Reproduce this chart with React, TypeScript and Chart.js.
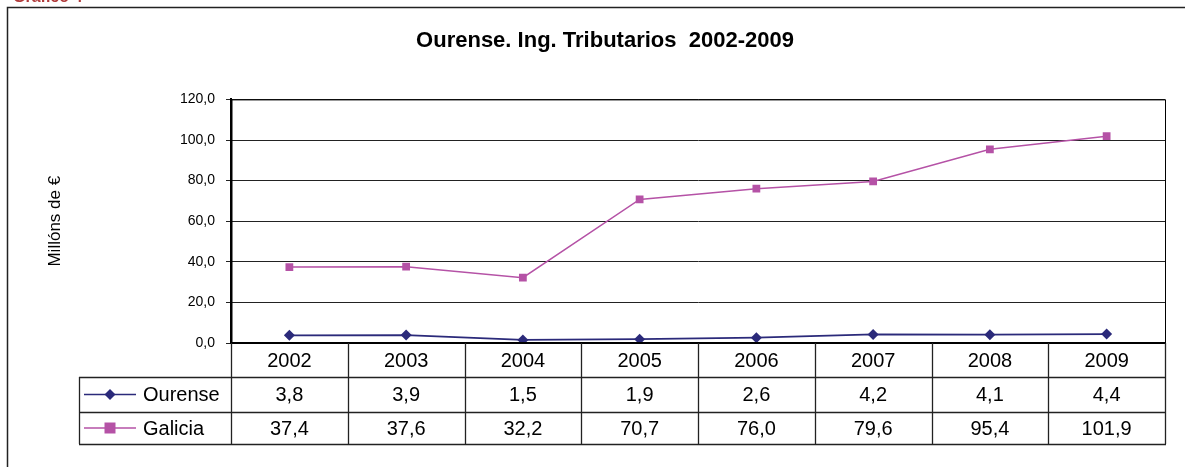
import React, { useEffect, useRef } from "react";
import { Chart, registerables } from "chart.js";

Chart.register(...registerables);

const years = ["2002", "2003", "2004", "2005", "2006", "2007", "2008", "2009"];
const ourense = [3.8, 3.9, 1.5, 1.9, 2.6, 4.2, 4.1, 4.4];
const galicia = [37.4, 37.6, 32.2, 70.7, 76.0, 79.6, 95.4, 101.9];
const seriesNames = ["Ourense", "Galicia"];
const chartTitle = "Ourense. Ing. Tributarios  2002-2009";
const yTitle = "Millóns de €";
const captionText = "Gráfico 4";

const NAVY = "#2B2A7A";
const MAGENTA = "#B552A6";
const FONT = "'Liberation Sans', Arial, sans-serif";

const fmt = (v: number) => v.toFixed(1).replace(".", ",");

const tablePlugin = {
  id: "tablePlugin",
  afterDraw(chart: any) {
    const ctx = chart.ctx;
    const area = chart.chartArea;
    const xs = chart.scales.x;
    const n = years.length;
    const colW = (area.right - area.left) / n;
    const top = area.bottom;
    const row1 = 377;
    const row2 = 412;
    const bottom = 444;
    const legLeft = 79;
    ctx.save();
    // caption (cut off at top)
    ctx.fillStyle = "#B03A3A";
    ctx.font = `bold 16px ${FONT}`;
    ctx.textBaseline = "alphabetic";
    ctx.textAlign = "left";
    ctx.fillText(captionText, 13, 2);
    // outer border
    ctx.strokeStyle = "#222";
    ctx.lineWidth = 1.5;
    ctx.strokeRect(7.5, 7.5, 1300, 600);
    // plot area frame
    ctx.strokeStyle = "#000";
    ctx.lineWidth = 1;
    ctx.strokeRect(area.left + 0.5, area.top + 0.5, area.right - area.left, area.bottom - area.top);
    ctx.lineWidth = 2;
    ctx.beginPath();
    ctx.moveTo(area.left, area.bottom);
    ctx.lineTo(area.right + 1, area.bottom);
    ctx.moveTo(area.left + 0.5, area.top);
    ctx.lineTo(area.left + 0.5, area.bottom);
    ctx.stroke();
    // table lines
    ctx.lineWidth = 1.3;
    ctx.strokeStyle = "#222";
    ctx.beginPath();
    for (let i = 0; i <= n; i++) {
      const x = Math.round(area.left + i * colW) + 0.5;
      ctx.moveTo(x, top);
      ctx.lineTo(x, bottom);
    }
    ctx.moveTo(legLeft + 0.5, row1);
    ctx.lineTo(legLeft + 0.5, bottom);
    [row1, row2, bottom].forEach((y) => {
      ctx.moveTo(legLeft, y + 0.5);
      ctx.lineTo(area.right + 1, y + 0.5);
    });
    ctx.stroke();
    // text
    ctx.fillStyle = "#000";
    ctx.font = `20px ${FONT}`;
    ctx.textAlign = "center";
    ctx.textBaseline = "middle";
    years.forEach((yr, i) => {
      const cx = xs.getPixelForValue(i);
      ctx.fillText(yr, cx, (top + row1) / 2 + 1);
      ctx.fillText(fmt(ourense[i]), cx, (row1 + row2) / 2 + 1);
      ctx.fillText(fmt(galicia[i]), cx, (row2 + bottom) / 2 + 1);
    });
    // legend keys
    const keys = [
      { name: seriesNames[0], color: NAVY, y: (row1 + row2) / 2, shape: "diamond" },
      { name: seriesNames[1], color: MAGENTA, y: (row2 + bottom) / 2, shape: "square" },
    ];
    keys.forEach((k) => {
      ctx.strokeStyle = k.color;
      ctx.lineWidth = 1.5;
      ctx.beginPath();
      ctx.moveTo(84, k.y);
      ctx.lineTo(136, k.y);
      ctx.stroke();
      ctx.fillStyle = k.color;
      ctx.beginPath();
      if (k.shape === "diamond") {
        ctx.moveTo(110, k.y - 5.5);
        ctx.lineTo(115.5, k.y);
        ctx.lineTo(110, k.y + 5.5);
        ctx.lineTo(104.5, k.y);
        ctx.closePath();
      } else {
        ctx.rect(104.5, k.y - 5.5, 11, 11);
      }
      ctx.fill();
      ctx.fillStyle = "#000";
      ctx.textAlign = "left";
      ctx.fillText(k.name, 143, k.y + 1);
    });
    ctx.restore();
  },
};

export default function App() {
  const ref = useRef<HTMLCanvasElement>(null);
  useEffect(() => {
    const canvas = ref.current;
    if (!canvas) return;
    const chart = new Chart(canvas, {
      type: "line",
      data: {
        labels: years,
        datasets: [
          {
            label: seriesNames[0],
            data: ourense,
            borderColor: NAVY,
            backgroundColor: NAVY,
            borderWidth: 1.8,
            pointStyle: "rectRot",
            pointRadius: 5.5,
            pointBorderWidth: 0,
            tension: 0,
          },
          {
            label: seriesNames[1],
            data: galicia,
            borderColor: MAGENTA,
            backgroundColor: MAGENTA,
            borderWidth: 1.5,
            pointStyle: "rect",
            pointRadius: 5.5,
            pointBorderWidth: 0,
            tension: 0,
          },
        ],
      },
      options: {
        responsive: false,
        animation: false,
        devicePixelRatio: 1,
        layout: { padding: { left: 45, right: 20, top: 0, bottom: 124 } },
        plugins: {
          legend: { display: false },
          tooltip: { enabled: false },
          title: {
            display: true,
            text: chartTitle,
            color: "#000",
            font: { family: FONT, size: 22, weight: "bold" },
            padding: { top: 28, bottom: 45 },
          },
        },
        scales: {
          x: {
            display: false,
            offset: true,
          },
          y: {
            min: 0,
            max: 120,
            ticks: {
              stepSize: 20,
              color: "#000",
              font: { family: FONT, size: 14 },
              padding: 11,
              callback: (v: any) => fmt(Number(v)),
            },
            grid: {
              color: "#222",
              lineWidth: 1,
              tickLength: 5,
              drawTicks: true,
            },
            border: { display: true, color: "#000", width: 2 },
            title: {
              display: true,
              text: yTitle,
              color: "#000",
              font: { family: FONT, size: 17 },
              padding: { top: 0, bottom: 0 },
            },
            afterFit: (s: any) => {
              s.width = 231 - 45;
            },
          },
        },
      },
      plugins: [tablePlugin],
    });
    return () => chart.destroy();
  }, []);
  return (
    <div style={{ position: "absolute", left: 0, top: 0, width: 1185, height: 467 }}>
      <canvas ref={ref} width={1185} height={467} style={{ width: 1185, height: 467, display: "block" }} />
    </div>
  );
}
